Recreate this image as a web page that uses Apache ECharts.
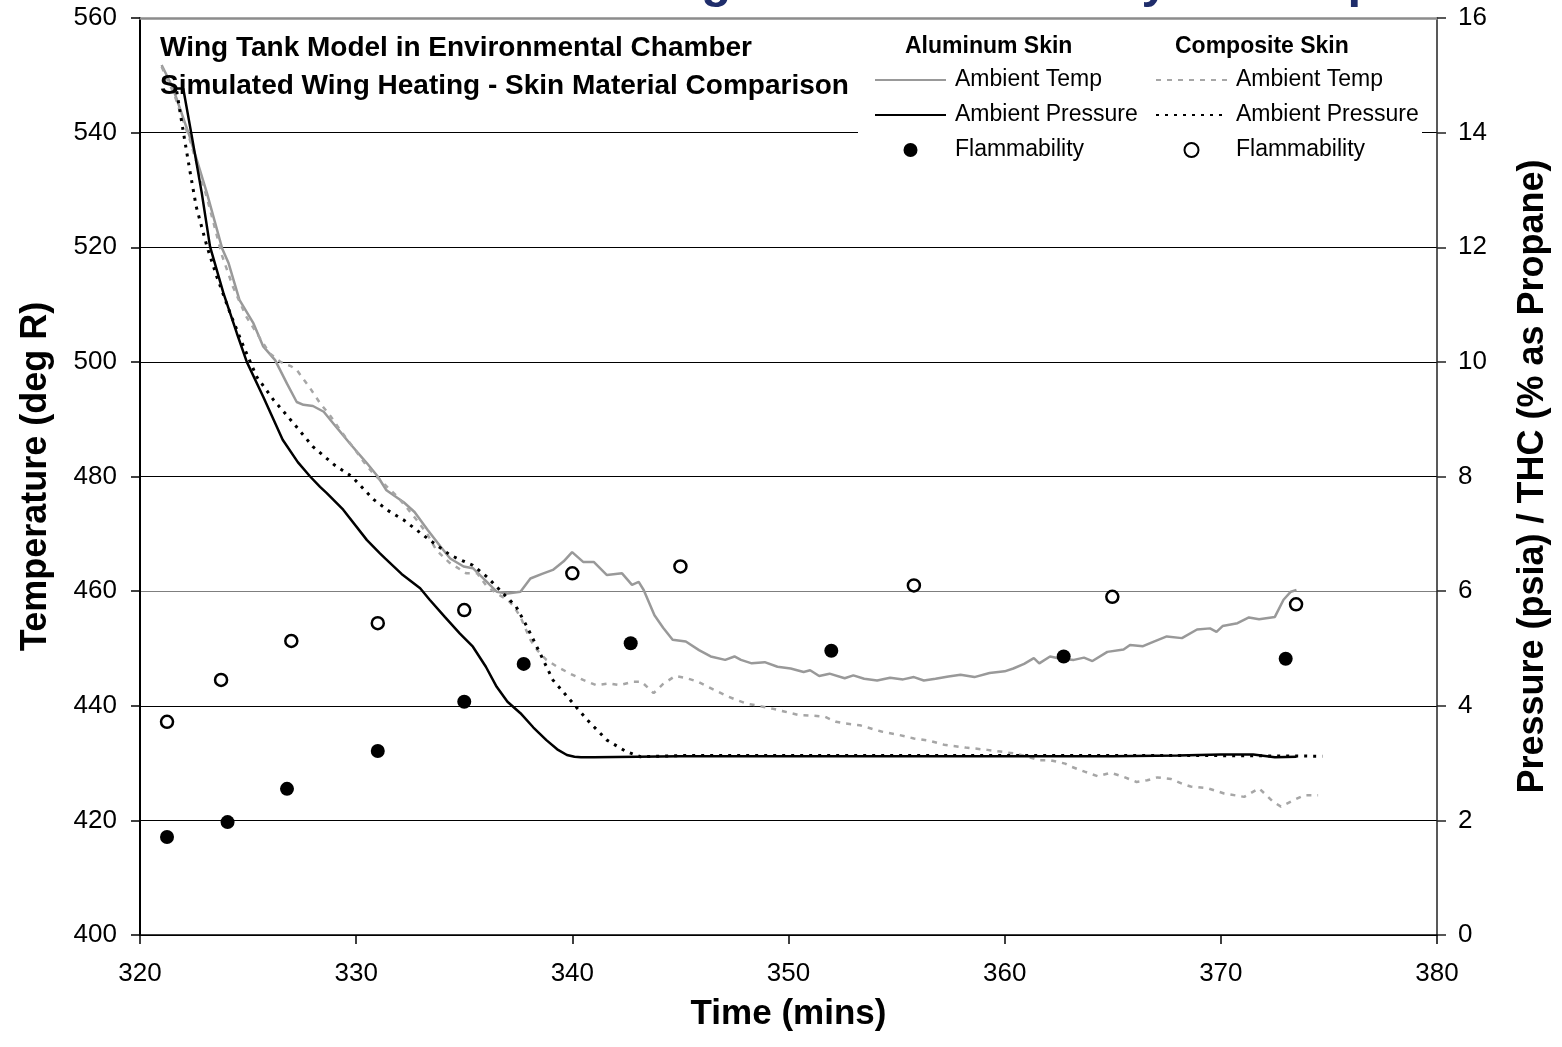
<!DOCTYPE html>
<html>
<head>
<meta charset="utf-8">
<script src="https://cdn.jsdelivr.net/npm/echarts@6/dist/echarts.min.js"></script>
<style>
  html, body { margin: 0; padding: 0; background: #fff; }
  #chart { width: 1562px; height: 1047px; }
</style>
</head>
<body>
<div id="chart"></div>
<script>
const FONT = 'Liberation Sans, Arial, sans-serif';

// aluminum skin - ambient temp (deg R)
const alTempTime = [321.0, 321.5, 322.3, 323.1, 323.8, 324.1, 324.6, 325.25, 325.7, 326.25, 326.8, 327.25, 327.56, 328.0, 328.5, 329.0, 329.7, 330.5, 331.0, 331.4, 332.2, 332.7, 333.3, 333.9, 334.35, 334.97, 335.4, 336.0, 336.5, 337.0, 337.6, 338.06, 338.6, 339.1, 339.6, 339.99, 340.5, 340.99, 341.6, 342.3, 342.76, 343.07, 343.3, 343.8, 344.2, 344.64, 345.25, 345.86, 346.4, 347.07, 347.5, 347.8, 348.3, 348.9, 349.49, 350.1, 350.7, 351.0, 351.42, 351.9, 352.6, 353.0, 353.5, 354.1, 354.7, 355.3, 355.8, 356.26, 356.8, 357.4, 357.96, 358.6, 359.3, 360.0, 360.4, 360.9, 361.35, 361.6, 362.1, 362.6, 363.2, 363.67, 364.06, 364.75, 365.5, 365.8, 366.4, 366.9, 367.5, 368.2, 368.9, 369.5, 369.8, 370.08, 370.77, 371.3, 371.77, 372.5, 372.9, 373.24, 373.5];
const alTempVal = [551.8, 548.0, 539.3, 529.4, 519.8, 517.2, 510.8, 506.7, 502.7, 500.3, 496.2, 493.0, 492.5, 492.3, 491.3, 489.0, 485.8, 482.3, 480.0, 477.6, 475.5, 473.8, 470.7, 467.8, 465.7, 464.3, 464.0, 461.8, 459.9, 459.6, 459.9, 462.2, 463.0, 463.7, 465.2, 466.8, 465.1, 465.1, 462.8, 463.1, 461.1, 461.6, 460.2, 455.8, 453.6, 451.5, 451.2, 449.7, 448.6, 448.0, 448.6, 448.0, 447.4, 447.6, 446.8, 446.5, 445.9, 446.2, 445.2, 445.6, 444.8, 445.3, 444.7, 444.4, 444.9, 444.6, 445.0, 444.4, 444.7, 445.1, 445.4, 445.0, 445.7, 446.0, 446.5, 447.3, 448.3, 447.4, 448.6, 448.2, 448.0, 448.4, 447.8, 449.4, 449.8, 450.6, 450.4, 451.2, 452.1, 451.8, 453.3, 453.5, 452.9, 453.9, 454.4, 455.4, 455.1, 455.5, 458.5, 459.9, 460.2];

// composite skin - ambient temp (deg R)
const compTempTime = [321.0, 321.6, 322.3, 323.1, 323.8, 324.3, 324.9, 325.4, 326.0, 326.5, 327.0, 327.25, 327.87, 328.33, 328.8, 329.26, 329.9, 330.4, 330.8, 331.4, 331.9, 332.4, 332.8, 333.3, 333.7, 334.3, 335.1, 335.6, 336.05, 336.5, 337.0, 337.3, 337.6, 338.06, 338.4, 338.8, 339.3, 339.9, 340.5, 341.1, 341.7, 342.2, 342.8, 343.2, 343.76, 344.2, 344.76, 345.3, 345.8, 346.6, 347.2, 348.03, 348.6, 349.25, 349.8, 350.45, 351.0, 351.67, 352.2, 352.63, 353.3, 354.3, 355.0, 355.8, 356.5, 357.2, 358.2, 359.2, 359.8, 360.4, 361.0, 361.6, 362.1, 362.8, 363.06, 363.7, 364.3, 364.9, 365.5, 366.1, 366.6, 367.07, 367.7, 368.2, 368.6, 369.4, 370.15, 371.08, 371.77, 372.4, 372.78, 373.4, 373.86, 374.5];
const compTempVal = [551.5, 546.5, 538.8, 528.6, 518.5, 513.1, 508.0, 505.0, 501.5, 500.0, 499.2, 498.6, 495.4, 492.8, 490.6, 488.1, 484.9, 482.3, 480.5, 478.3, 476.5, 474.3, 472.4, 469.9, 467.2, 465.0, 463.1, 463.1, 460.8, 459.6, 458.5, 457.3, 455.5, 451.5, 449.6, 448.0, 446.8, 445.6, 444.5, 443.6, 443.9, 443.6, 444.2, 444.2, 442.2, 443.8, 445.2, 444.8, 444.2, 442.7, 441.6, 440.4, 440.0, 439.5, 439.0, 438.4, 438.3, 438.1, 437.2, 436.9, 436.6, 435.5, 435.0, 434.3, 433.9, 433.2, 432.7, 432.3, 432.0, 431.7, 431.2, 430.5, 430.5, 429.9, 429.4, 428.5, 427.7, 428.3, 427.6, 426.7, 427.0, 427.5, 427.2, 426.4, 425.9, 425.6, 424.7, 424.1, 425.6, 423.3, 422.4, 423.6, 424.4, 424.4];

// aluminum skin - ambient pressure (psia)
const alPresTime = [321.6, 322.0, 322.4, 322.86, 323.24, 323.86, 324.48, 324.94, 325.7, 326.6, 327.3, 327.87, 328.33, 328.64, 329.4, 330.5, 331.1, 331.34, 332.1, 332.96, 333.4, 334.1, 334.8, 335.4, 336.0, 336.5, 337.0, 337.6, 338.2, 338.8, 339.3, 339.75, 340.1, 340.4, 341.0, 343.0, 345.0, 350.0, 355.0, 360.0, 365.0, 368.0, 370.0, 371.5, 372.5, 373.5];
const alPresVal = [14.77, 14.77, 13.93, 12.94, 12.01, 11.2, 10.5, 10.0, 9.39, 8.64, 8.25, 8.0, 7.82, 7.71, 7.42, 6.89, 6.66, 6.57, 6.3, 6.05, 5.85, 5.55, 5.26, 5.03, 4.68, 4.33, 4.07, 3.87, 3.62, 3.4, 3.24, 3.14, 3.11, 3.1, 3.1, 3.11, 3.12, 3.12, 3.12, 3.12, 3.12, 3.13, 3.15, 3.15, 3.1, 3.11];

// composite skin - ambient pressure (psia)
const compPresTime = [321.7, 322.0, 322.3, 322.6, 323.1, 323.55, 324.17, 324.8, 325.4, 326.17, 327.1, 328.0, 329.0, 329.8, 330.8, 331.5, 332.2, 333.4, 334.35, 334.8, 335.4, 336.05, 336.8, 337.4, 337.9, 338.5, 339.1, 339.9, 340.7, 341.6, 342.5, 343.15, 345.0, 350.0, 355.0, 360.0, 365.0, 370.0, 374.7];
const compPresVal = [14.72, 14.02, 13.35, 12.71, 12.01, 11.49, 10.85, 10.26, 9.74, 9.34, 8.93, 8.52, 8.2, 8.0, 7.6, 7.4, 7.24, 6.89, 6.63, 6.55, 6.45, 6.25, 5.96, 5.73, 5.38, 4.92, 4.45, 4.1, 3.75, 3.4, 3.2, 3.11, 3.13, 3.13, 3.13, 3.13, 3.13, 3.13, 3.12];

// flammability (% as propane)
const alFlamTime = [321.25, 324.05, 326.8, 331.0, 335.0, 337.75, 342.7, 351.98, 362.73, 373.0];
const alFlamVal = [1.71, 1.97, 2.55, 3.21, 4.07, 4.73, 5.09, 4.96, 4.86, 4.82];
const compFlamTime = [321.25, 323.75, 327.0, 331.0, 335.0, 340.0, 345.0, 355.8, 364.98, 373.48];
const compFlamVal = [3.72, 4.45, 5.13, 5.44, 5.67, 6.31, 6.43, 6.1, 5.9, 5.77];

const zip = (xs, ys) => xs.map((x, i) => [x, ys[i]]);

const chart = echarts.init(document.getElementById('chart'));

const legendText = {
  fontSize: 23,
  fontFamily: FONT,
  color: '#000',
  lineHeight: 26,
  padding: [0, 0, 0, 4]
};

// line entries in the legend: keep the line, hide the marker
const lineItem = (name) => ({ name: name, itemStyle: { opacity: 0, color: 'rgba(0,0,0,0)', borderWidth: 0 } });

const option = {
  animation: false,
  backgroundColor: '#fff',
  grid: { left: 140, right: 125, top: 18, bottom: 112 },
  legend: [{
    orient: 'vertical',
    left: 869,
    top: 62,
    itemWidth: 71,
    itemHeight: 14,
    itemGap: 9,
    textStyle: legendText,
    formatter: (name) => name.replace(/^Aluminum Skin /, ''),
    data: [lineItem('Aluminum Skin Ambient Temp'), lineItem('Aluminum Skin Ambient Pressure'), 'Aluminum Skin Flammability']
  }, {
    orient: 'vertical',
    left: 1150,
    top: 62,
    itemWidth: 71,
    itemHeight: 14,
    itemGap: 9,
    textStyle: legendText,
    formatter: (name) => name.replace(/^Composite Skin /, ''),
    data: [lineItem('Composite Skin Ambient Temp'), lineItem('Composite Skin Ambient Pressure'), 'Composite Skin Flammability']
  }],
  graphic: [
    {
      type: 'rect', z: 3,
      shape: { x: 858, y: 28, width: 564, height: 138 },
      style: { fill: '#fff' }
    },
    {
      type: 'text', z: 10, x: 612, y: -17,
      style: { text: 'Wing Tank Flammability vs Temp', font: 'bold 49px ' + FONT, fill: '#1F2D6B', verticalAlign: 'middle' }
    },
    {
      type: 'text', z: 10, left: 160, top: 34,
      style: { text: 'Wing Tank Model in Environmental Chamber', font: 'bold 28px ' + FONT, fill: '#000' }
    },
    {
      type: 'text', z: 10, left: 160, top: 72,
      style: { text: 'Simulated Wing Heating - Skin Material Comparison', font: 'bold 28px ' + FONT, fill: '#000' }
    },
    {
      type: 'text', z: 10, left: 905, top: 35,
      style: { text: 'Aluminum Skin', font: 'bold 23px ' + FONT, fill: '#000' }
    },
    {
      type: 'text', z: 10, left: 1175, top: 35,
      style: { text: 'Composite Skin', font: 'bold 23px ' + FONT, fill: '#000' }
    }
  ],
  xAxis: [{
    type: 'value',
    min: 320, max: 380, interval: 10,
    name: 'Time (mins)',
    nameLocation: 'middle',
    nameGap: 62,
    nameTextStyle: { fontSize: 35, fontWeight: 'bold', fontFamily: FONT, color: '#000' },
    axisLine: { lineStyle: { color: '#000', width: 1.5 } },
    axisTick: { length: 9, lineStyle: { color: '#000', width: 1.5 } },
    axisLabel: { fontSize: 26, fontFamily: FONT, color: '#000', margin: 26 },
    splitLine: { show: false }
  }, {
    type: 'value', position: 'top',
    min: 320, max: 380, interval: 10,
    axisLine: { lineStyle: { color: '#8c8c8c', width: 2.5 } },
    axisTick: { show: false },
    axisLabel: { show: false },
    splitLine: { show: false }
  }],
  yAxis: [{
    type: 'value',
    min: 400, max: 560, interval: 20,
    name: 'Temperature (deg R)',
    nameLocation: 'middle',
    nameRotate: 90,
    nameGap: 86,
    nameTextStyle: { fontSize: 36, fontWeight: 'bold', fontFamily: FONT, color: '#000' },
    axisLine: { show: true, lineStyle: { color: '#000', width: 2 } },
    axisTick: { show: true, length: 9, lineStyle: { color: '#000', width: 1.5 } },
    axisLabel: { fontSize: 26, fontFamily: FONT, color: '#000', margin: 23 },
    splitLine: {
      show: true,
      lineStyle: {
        color: ['#000', '#000', '#000', '#7f7f7f', '#000', '#000', '#000', '#000', '#8c8c8c'],
        width: 1.2
      }
    }
  }, {
    type: 'value',
    min: 0, max: 16, interval: 2,
    position: 'right',
    name: 'Pressure (psia) / THC (% as Propane)',
    nameLocation: 'middle',
    nameRotate: 90,
    nameGap: 78,
    nameTextStyle: { fontSize: 36, fontWeight: 'bold', fontFamily: FONT, color: '#000' },
    axisLine: { show: true, lineStyle: { color: '#222', width: 1.5 } },
    axisTick: { show: true, length: 9, lineStyle: { color: '#222', width: 1.5 } },
    axisLabel: { fontSize: 26, fontFamily: FONT, color: '#000', margin: 21 },
    splitLine: { show: false }
  }],
  series: [
    {
      name: 'Aluminum Skin Ambient Temp', type: 'line', yAxisIndex: 0,
      data: zip(alTempTime, alTempVal),
      symbol: 'none', z: 2,
      lineStyle: { color: '#999', width: 2.5 }, itemStyle: { color: '#999' }
    },
    {
      name: 'Aluminum Skin Ambient Pressure', type: 'line', yAxisIndex: 1,
      data: zip(alPresTime, alPresVal),
      symbol: 'none', z: 3,
      lineStyle: { color: '#000', width: 2.5 }, itemStyle: { color: '#000' }
    },
    {
      name: 'Aluminum Skin Flammability', type: 'scatter', yAxisIndex: 1,
      data: zip(alFlamTime, alFlamVal),
      symbol: 'circle', symbolSize: 14, z: 5,
      itemStyle: { color: '#000', opacity: 1 }
    },
    {
      name: 'Composite Skin Ambient Temp', type: 'line', yAxisIndex: 0,
      data: zip(compTempTime, compTempVal),
      symbol: 'none', z: 2,
      lineStyle: { color: '#a6a6a6', width: 2.5, type: [5, 6] }, itemStyle: { color: '#a6a6a6' }
    },
    {
      name: 'Composite Skin Ambient Pressure', type: 'line', yAxisIndex: 1,
      data: zip(compPresTime, compPresVal),
      symbol: 'none', z: 3,
      lineStyle: { color: '#000', width: 3, type: [3, 6] }, itemStyle: { color: '#000' }
    },
    {
      name: 'Composite Skin Flammability', type: 'scatter', yAxisIndex: 1,
      data: zip(compFlamTime, compFlamVal),
      symbol: 'circle', symbolSize: 12, z: 5,
      itemStyle: { color: '#fff', borderColor: '#000', borderWidth: 2.5, opacity: 1 }
    }
  ]
};

chart.setOption(option);
</script>
</body>
</html>
